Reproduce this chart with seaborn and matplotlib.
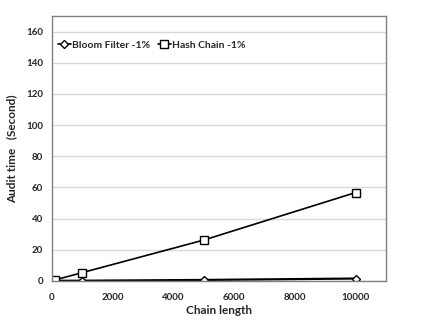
import matplotlib
matplotlib.use("Agg")
import matplotlib.pyplot as plt
import seaborn as sns
import pandas as pd

# ----------- DATOS -----------
chain_length = [100, 1000, 5000, 10000]
bloom_time = [0.05, 0.1, 0.6, 1.5]
hash_time = [0.6, 5.3, 26.2, 56.7]
series_names = ["Bloom Filter -1%", "Hash Chain -1%"]
y_ticks = [0, 20, 40, 60, 80, 100, 120, 140, 160]
x_ticks = [0, 2000, 4000, 6000, 8000, 10000]

df = pd.DataFrame({
    "Chain length": chain_length * 2,
    "time": bloom_time + hash_time,
    "serie": [series_names[0]] * 4 + [series_names[1]] * 4,
})

# ----------- ESTILO -----------
sns.set_style("white")
plt.rcParams['font.family'] = ['Lato', 'DejaVu Sans']
plt.rcParams['font.weight'] = 'bold'

fig = plt.figure(figsize=(4.29, 3.32), dpi=100)
ax = fig.add_axes([0.121, 0.154, 0.779, 0.798])

sns.lineplot(data=df, x="Chain length", y="time", hue="serie", style="serie",
             markers={series_names[0]: "D", series_names[1]: "s"},
             dashes=False, palette=["black", "black"], ax=ax,
             linewidth=1.2)

# tamaños de marcador: diamante más pequeño que el cuadrado
sizes = {series_names[0]: 4.2, series_names[1]: 5.5}
for line in ax.lines:
    lab = line.get_label()
    line.set_markerfacecolor("white")
    line.set_markeredgecolor("black")
    line.set_markeredgewidth(1.0)
    if lab in sizes:
        line.set_markersize(sizes[lab])
ax.lines[0].set_markersize(sizes[series_names[0]])
ax.lines[1].set_markersize(sizes[series_names[1]])
ax.lines[0].set_linewidth(1.6)

ax.set_xlim(0, 11000)
ax.set_ylim(0, 170)
ax.set_xticks(x_ticks)
ax.set_yticks(y_ticks)
ax.yaxis.grid(True, color="#d9d9d9", linewidth=1)
ax.set_axisbelow(True)
for s in ax.spines.values():
    s.set_color("#808080")
    s.set_linewidth(1)
ax.tick_params(axis="both", labelsize=7, length=3, color="#808080", direction="out")
ax.tick_params(axis="x", pad=6)
for lab in ax.get_xticklabels() + ax.get_yticklabels():
    lab.set_fontweight("bold")

ax.set_xlabel("Chain length", fontsize=8.5, fontweight="bold", labelpad=2)
ax.set_ylabel("Audit time   (Second)", fontsize=8.5, fontweight="bold", labelpad=6)

leg = ax.legend(loc="upper left", frameon=False, ncol=2, fontsize=7.5,
                handlelength=1.2, handletextpad=0.1, columnspacing=0.8,
                borderaxespad=0.2, bbox_to_anchor=(0.0, 0.93))
for t in leg.get_texts():
    t.set_fontweight("bold")
for h, ms in zip(leg.legend_handles, [4.2, 5.5]):
    h.set_markersize(ms)
    h.set_markerfacecolor("white")

fig.savefig("out.png", dpi=100)
